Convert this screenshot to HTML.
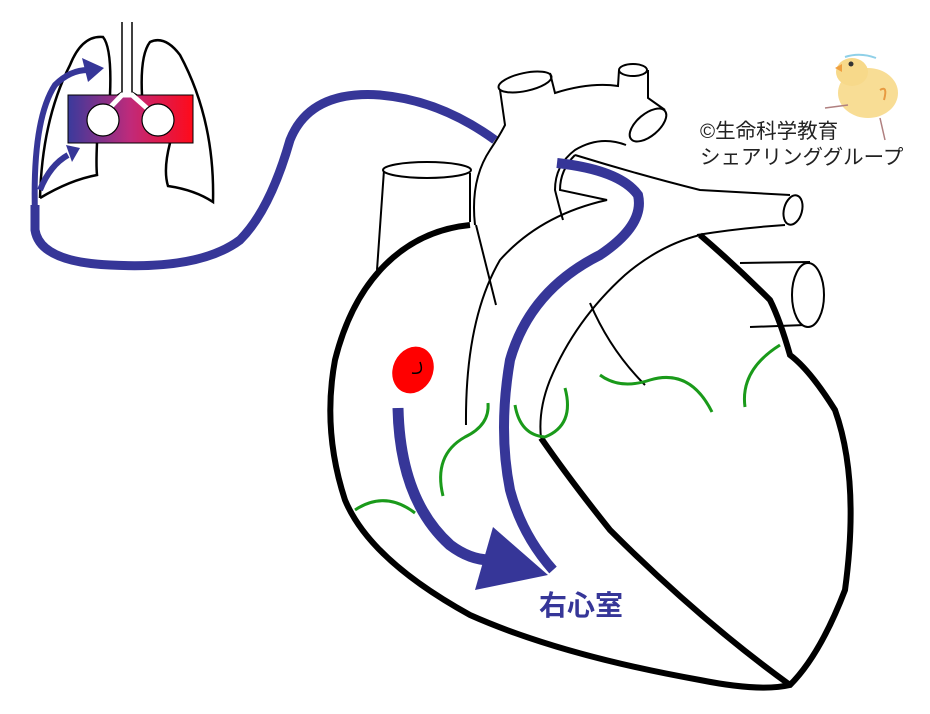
<!DOCTYPE html>
<html><head><meta charset="utf-8"><style>
html,body{margin:0;padding:0;background:#fff;}
svg{display:block;}
</style></head><body>
<svg width="930" height="714" viewBox="0 0 930 714" xmlns="http://www.w3.org/2000/svg">
<defs>
<linearGradient id="g" x1="0" x2="1" y1="0" y2="0">
<stop offset="0" stop-color="#3a3a9c"/><stop offset="0.5" stop-color="#c02a7a"/><stop offset="1" stop-color="#ff0a1a"/>
</linearGradient>
</defs>
<!-- chick -->
<g>
<ellipse cx="868" cy="93" rx="30" ry="25" fill="#f7d98a" opacity="0.9"/>
<ellipse cx="852" cy="72" rx="16" ry="14" fill="#f7d98a"/>
<polygon points="835,68 842,64 842,72" fill="#f0a040"/>
<circle cx="851" cy="64" r="2.5" fill="#333"/>
<path d="M845 57 Q860 52 876 58" stroke="#8fd0e8" stroke-width="2" fill="none"/>
<path d="M880 90 Q888 85 884 100" stroke="#e89a40" stroke-width="2" fill="none"/>
<path d="M848 105 L825 108 M880 118 L885 140" stroke="#b08080" stroke-width="1.5"/>
</g>
<text x="700" y="138" font-family="Liberation Sans, Noto Sans CJK JP, sans-serif" font-size="20.5" fill="#222">©生命科学教育</text>
<text x="700" y="164" font-family="Liberation Sans, Noto Sans CJK JP, sans-serif" font-size="20.5" fill="#222">シェアリンググループ</text>

<!-- lungs -->
<g fill="none" stroke="#000" stroke-width="2.5">
<path d="M40 198 Q42 120 70 65 Q82 35 103 37 Q112 48 110 95 M97 143 Q96 165 97 175 Q70 180 40 198"/>
<path d="M170 143 Q163 170 168 186 Q195 190 213 202 Q215 120 180 55 Q165 35 150 42 Q140 55 142 95"/>
</g>
<g fill="none" stroke="#000" stroke-width="1.5">
<path d="M122 22 L122 92 L110 100 M132 22 L132 92 L145 100"/>
</g>
<rect x="68" y="95" width="125" height="48" fill="url(#g)" stroke="#000" stroke-width="1"/>
<path d="M100 118 L122 95 L132 95 L158 118" stroke="#fff" stroke-width="5" fill="none"/>
<circle cx="103" cy="120" r="16" fill="#fff" stroke="#000" stroke-width="1.2"/>
<circle cx="158" cy="120" r="16" fill="#fff" stroke="#000" stroke-width="1.2"/>
<!-- lung arrows -->
<g fill="none" stroke="#363698" stroke-width="6">
<path d="M35 215 Q32 120 55 85 Q70 70 88 70"/>
<path d="M40 190 Q50 165 68 155"/>
</g>
<polygon points="82,58 104,68 88,82" fill="#363698"/>
<polygon points="66,145 80,148 72,162" fill="#363698"/>

<!-- big vessel path -->
<path d="M35 205 L35 230 Q40 262 110 265 Q200 270 240 240 Q270 210 290 140 Q310 90 380 95 Q440 100 495 140" fill="none" stroke="#363698" stroke-width="9"/>

<!-- heart thick outline -->
<path d="M470 225 Q420 230 385 265 Q350 300 335 360 Q322 430 345 500 Q370 560 470 615 Q560 655 700 680 Q760 692 790 685 Q820 655 845 590 Q860 480 835 410 Q810 370 790 355 Q780 320 770 300 Q735 265 700 235" fill="none" stroke="#000" stroke-width="6"/>
<path d="M541 438 Q570 480 610 530 Q700 620 790 685" fill="none" stroke="#000" stroke-width="6"/>

<!-- SVC -->
<g fill="none" stroke="#000" stroke-width="2">
<path d="M384 170 L377 270 M470 173 L470 222"/>
<ellipse cx="427" cy="170" rx="44" ry="8" fill="#fff"/>
</g>
<!-- aorta -->
<g fill="none" stroke="#000" stroke-width="2">
<path d="M475 225 Q470 180 490 150 Q500 135 505 125 L500 90"/>
<ellipse cx="525" cy="82" rx="27" ry="9" transform="rotate(-12 525 82)" fill="#fff"/>
<path d="M550 73 L555 93 Q590 82 618 86 L619 70"/>
<ellipse cx="633" cy="70" rx="14" ry="6" fill="#fff"/>
<path d="M648 70 L648 98 L665 110"/>
<ellipse cx="648" cy="125" rx="22" ry="11" transform="rotate(-40 648 125)" fill="#fff"/>
<path d="M626 145 Q600 135 575 150 Q555 165 555 190 Q560 210 563 220"/>
<path d="M575 155 Q560 170 560 190 L607 200 Q540 215 500 260 Q465 320 466 425"/>
<path d="M476 225 L496 305"/>
<path d="M575 155 Q640 175 700 190 L790 195"/>
<ellipse cx="793" cy="210" rx="9" ry="15" transform="rotate(15 793 210)" fill="#fff"/>
<path d="M697 235 Q740 228 785 225"/>
<path d="M700 235 Q660 245 625 275 Q575 320 550 380 Q538 410 541 438"/>
<path d="M590 303 Q610 350 645 385"/>
<path d="M740 263 L810 262 M750 327 L805 325"/>
<ellipse cx="808" cy="295" rx="16" ry="32" fill="#fff"/>
</g>
<!-- blue in heart -->
<path d="M557 163 Q620 170 638 195 Q645 225 600 255 Q530 290 510 360 Q498 430 510 490 Q522 535 553 570" fill="none" stroke="#363698" stroke-width="10"/>
<path d="M398 408 Q400 500 450 545 Q470 560 490 560" fill="none" stroke="#363698" stroke-width="11"/>
<polygon points="493,527 548,575 475,590" fill="#363698"/>
<!-- red cell -->
<ellipse cx="413" cy="370" rx="20" ry="24" transform="rotate(25 413 370)" fill="#f00"/>
<path d="M420 362 Q425 375 412 373" stroke="#000" stroke-width="1.5" fill="none"/>
<!-- green -->
<g fill="none" stroke="#1a9a1a" stroke-width="3">
<path d="M355 510 Q385 490 415 513"/>
<path d="M443 496 Q433 455 465 437 Q490 425 488 403"/>
<path d="M515 405 Q520 435 545 437 Q575 425 565 388"/>
<path d="M600 375 Q620 390 650 380 Q690 368 712 412"/>
<path d="M745 407 Q740 370 780 345"/>
</g>
<text x="539" y="615" font-family="Liberation Sans, Noto Sans CJK JP, sans-serif" font-size="28" font-weight="bold" fill="#363698">右心室</text>
</svg>
</body></html>
